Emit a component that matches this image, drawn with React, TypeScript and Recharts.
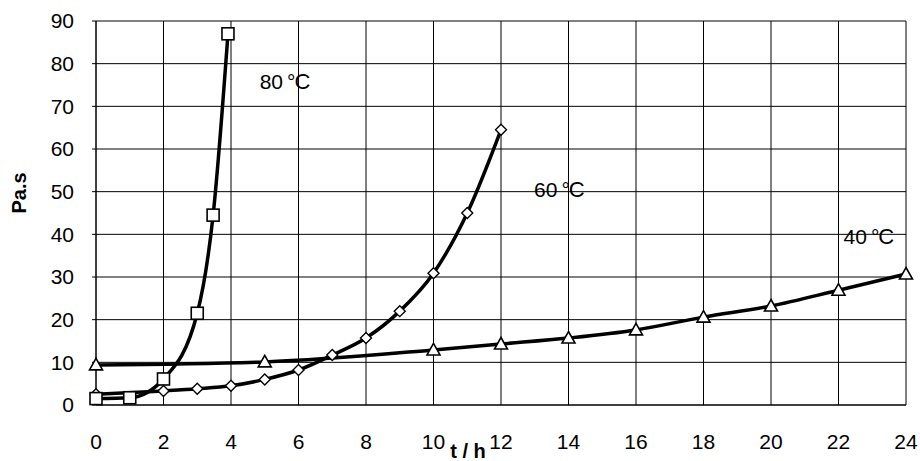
import React from 'react';
import { LineChart, Line, XAxis, YAxis, CartesianGrid, ReferenceDot } from 'recharts';

// 80 ℃ series (squares)
const t80 = [0, 1, 2, 3, 3.47, 3.91];
const v80 = [1.5, 1.7, 6.1, 21.5, 44.5, 87];
// 60 ℃ series (diamonds)
const t60 = [0, 2, 3, 4, 5, 6, 7, 8, 9, 10, 11, 12];
const v60 = [2.5, 3.3, 3.8, 4.5, 6, 8.2, 11.7, 15.7, 22, 30.9, 45, 64.5];
// 40 ℃ series (triangles)
const t40 = [0, 5, 10, 12, 14, 16, 18, 20, 22, 24];
const v40 = [9.4, 10.1, 12.9, 14.3, 15.7, 17.6, 20.6, 23.2, 26.9, 30.7];

const xTicks = [0, 2, 4, 6, 8, 10, 12, 14, 16, 18, 20, 22, 24];
const yTicks = [0, 10, 20, 30, 40, 50, 60, 70, 80, 90];

const seriesLabels = [
  { x: 5.6, y: 75.9, num: '80' },
  { x: 13.73, y: 50.6, num: '60' },
  { x: 22.9, y: 39.5, num: '40' },
];

const zip = (xs: number[], ys: number[]) => xs.map((x, i) => ({ x, y: ys[i] }));
const d80 = zip(t80, v80);
const d60 = zip(t60, v60);
const d40 = zip(t40, v40);

const FONT = '"Liberation Sans", Arial, sans-serif';

const SquareDot = (p: any) => {
  const { cx, cy, index } = p;
  if (cx == null || cy == null) return <g key={`s${index}`} />;
  return <rect key={`s${index}`} x={cx - 6} y={cy - 6} width={12} height={12} fill="#fff" stroke="#000" strokeWidth={1.6} />;
};
const DiamondDot = (p: any) => {
  const { cx, cy, index } = p;
  if (cx == null || cy == null) return <g key={`d${index}`} />;
  return (
    <polygon
      key={`d${index}`}
      points={`${cx},${cy - 5.5} ${cx + 5.5},${cy} ${cx},${cy + 5.5} ${cx - 5.5},${cy}`}
      fill="#fff"
      stroke="#000"
      strokeWidth={1.4}
    />
  );
};
const TriangleDot = (p: any) => {
  const { cx, cy, index } = p;
  if (cx == null || cy == null) return <g key={`t${index}`} />;
  return (
    <polygon
      key={`t${index}`}
      points={`${cx},${cy - 6.5} ${cx + 6.5},${cy + 5} ${cx - 6.5},${cy + 5}`}
      fill="#fff"
      stroke="#000"
      strokeWidth={1.6}
    />
  );
};

const YLabel = (props: any) => {
  const { viewBox } = props;
  const x = viewBox.x + 19;
  const y = viewBox.y + 172;
  return (
    <text x={x} y={y} transform={`rotate(-90 ${x} ${y})`} textAnchor="middle" dominantBaseline="central"
      fontFamily={FONT} fontSize={20} fontWeight="bold" fill="#000">
      Pa.s
    </text>
  );
};
const XLabel = (props: any) => {
  const { viewBox } = props;
  return (
    <text x={viewBox.x + 372} y={viewBox.y + 53} textAnchor="middle" fontFamily={FONT} fontSize={20}
      fontWeight="bold" fill="#000">
      t / h
    </text>
  );
};

const makeSeriesLabel = (num: string) => (props: any) => {
  const { viewBox } = props;
  return (
    <text x={viewBox.x} y={viewBox.y} textAnchor="middle" dominantBaseline="central" fontFamily={FONT}
      fontSize={21} fill="#000">
      <tspan>{num}</tspan>
      <tspan dx={4}>°</tspan>
      <tspan dx={-1} fontSize={22}>C</tspan>
    </text>
  );
};

export default function App() {
  return (
    <div style={{ position: 'absolute', left: 0, top: 0, width: 920, height: 461, background: '#fff' }}>
      <LineChart width={920} height={461} margin={{ top: 21, right: 14, left: 0, bottom: 0 }}>
        <CartesianGrid stroke="#000" strokeWidth={1} />
        <XAxis
          dataKey="x"
          type="number"
          domain={[0, 24]}
          ticks={xTicks}
          height={56}
          tickLine={false}
          tickSize={0}
          tickMargin={29}
          axisLine={{ stroke: '#000' }}
          tick={{ fontFamily: FONT, fontSize: 21, fill: '#000' }}
          interval={0}
          label={<XLabel />}
        />
        <YAxis
          type="number"
          domain={[0, 90]}
          ticks={yTicks}
          width={96}
          tickSize={4}
          tickMargin={18}
          tickLine={{ stroke: '#000' }}
          axisLine={{ stroke: '#000' }}
          tick={{ fontFamily: FONT, fontSize: 21, fill: '#000' }}
          interval={0}
          label={<YLabel />}
        />
        <Line data={d40} dataKey="y" type="monotone" stroke="#000" strokeWidth={3.5} dot={TriangleDot}
          activeDot={false} isAnimationActive={false} />
        <Line data={d60} dataKey="y" type="monotone" stroke="#000" strokeWidth={3.5} dot={DiamondDot}
          activeDot={false} isAnimationActive={false} />
        <Line data={d80} dataKey="y" type="monotone" stroke="#000" strokeWidth={3.5} dot={SquareDot}
          activeDot={false} isAnimationActive={false} />
        {seriesLabels.map((l) => (
          <ReferenceDot key={l.num} x={l.x} y={l.y} r={0} fill="none" stroke="none"
            label={{ content: makeSeriesLabel(l.num) }} />
        ))}
      </LineChart>
    </div>
  );
}
